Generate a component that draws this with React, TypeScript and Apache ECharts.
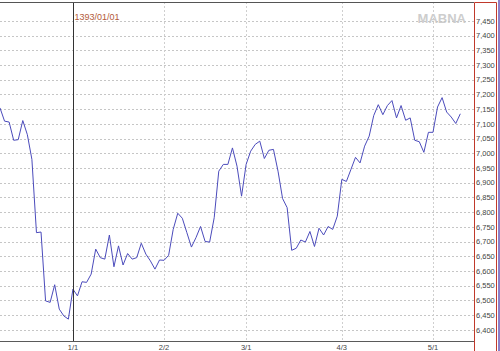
import React, { useEffect, useRef } from "react";
import * as echarts from "echarts";

// ---- data ----
const indexValues = [
  7155, 7110, 7107, 7045, 7047, 7112, 7064, 6980, 6731, 6733,
  6499, 6494, 6554, 6471, 6448, 6437, 6539, 6516, 6564, 6562,
  6590, 6675, 6646, 6641, 6723, 6615, 6686, 6621, 6660, 6641,
  6646, 6695, 6658, 6635, 6607, 6638, 6637, 6654, 6742, 6797,
  6780, 6731, 6682, 6714, 6752, 6701, 6699, 6782, 6940, 6963,
  6963, 7019, 6957, 6855, 6963, 7008, 7031, 7042, 6983, 7011,
  7014, 6940, 6847, 6816, 6671, 6678, 6706, 6699, 6735, 6684,
  6746, 6723, 6752, 6742, 6787, 6912, 6905, 6946, 6987, 6968,
  7025, 7059, 7129, 7166, 7132, 7163, 7180, 7121, 7163, 7113,
  7121, 7045, 7040, 7004, 7072, 7072, 7158, 7190, 7141, 7124,
  7102, 7135,
];
const xTickLabels = ["1/1", "2/2", "3/1", "4/3", "5/1"];
const xTickIndex = [16, 36, 54, 75, 95];
const yTicks = [
  6400, 6450, 6500, 6550, 6600, 6650, 6700, 6750, 6800, 6850, 6900,
  6950, 7000, 7050, 7100, 7150, 7200, 7250, 7300, 7350, 7400, 7450,
];
const eventIndex = 16;
const eventLabel = "1393/01/01";
const watermark = "MABNA";
const Y_MIN = 6362.7;
const Y_MAX = 7515;
const CATEGORY_COUNT = 105;

const FONT = '"Liberation Sans", Arial, sans-serif';
const fmt = (v: number) =>
  Math.round(v).toString().replace(/\B(?=(\d{3})+(?!\d))/g, ",");

export default function App() {
  const ref = useRef<HTMLDivElement>(null);

  useEffect(() => {
    if (!ref.current) return;
    const chart = echarts.init(ref.current, undefined, { renderer: "svg" });
    const categories = Array.from({ length: CATEGORY_COUNT }, (_, i) => String(i));
    const tickSet = new Set(xTickIndex);
    const lastValue = indexValues[indexValues.length - 1];

    chart.setOption({
      animation: false,
      backgroundColor: "#ffffff",
      grid: { left: 0, right: 26, top: 2, bottom: 9, containLabel: false },
      xAxis: {
        type: "category",
        data: categories,
        boundaryGap: false,
        axisLine: { show: true, lineStyle: { color: "#5a5a5a", width: 1 } },
        axisTick: { show: false },
        axisLabel: {
          interval: (i: number) => tickSet.has(i),
          formatter: (_v: string, i: number) => {
            const k = xTickIndex.indexOf(i);
            return k >= 0 ? xTickLabels[k] : "";
          },
          fontSize: 7.5,
          fontFamily: FONT,
          color: "#444",
          margin: 2,
        },
        splitLine: {
          show: true,
          interval: (i: number) => tickSet.has(i),
          lineStyle: { color: "#cfcfcf", type: [2, 2], width: 1 },
        },
      },
      yAxis: {
        type: "value",
        position: "right",
        min: Y_MIN,
        max: Y_MAX,
        axisLine: { show: false },
        axisTick: { show: false, customValues: yTicks },
        axisLabel: {
          customValues: yTicks,
          formatter: (v: number) => fmt(v),
          fontSize: 7.5,
          fontFamily: FONT,
          color: "#444",
          margin: 2,
        },
        splitLine: {
          show: true,
          lineStyle: { color: "#c6c6c6", type: [2, 2], width: 1 },
        },
      },
      series: [
        {
          type: "line",
          data: indexValues,
          symbol: "none",
          lineStyle: { color: "#4b4bbb", width: 1 },
          markLine: {
            silent: true,
            symbol: "none",
            animation: false,
            data: [
              {
                xAxis: eventIndex,
                lineStyle: { color: "#333", type: "solid", width: 1 },
                label: { show: false },
              },
              {
                yAxis: lastValue,
                lineStyle: { opacity: 0, width: 0 },
                label: {
                  show: true,
                  position: "end",
                  distance: 1,
                  formatter: () => fmt(lastValue),
                  backgroundColor: "#1f33d6",
                  color: "#ffffff",
                  fontSize: 7.5,
                  fontFamily: FONT,
                  padding: [1, 2, 0, 2],
                },
              },
            ],
          },
          markPoint: {
            silent: true,
            symbol: "circle",
            symbolSize: 1,
            itemStyle: { color: "rgba(0,0,0,0)" },
            data: [{ coord: [eventIndex, Y_MAX], value: eventLabel }],
            label: {
              show: true,
              position: "right",
              distance: 1,
              offset: [0, 15],
              formatter: eventLabel,
              color: "#b35a3a",
              fontSize: 9,
              fontFamily: FONT,
            },
          },
        },
      ],
      graphic: [
        {
          type: "line",
          shape: { x1: 0, y1: 2.5, x2: 474, y2: 2.5 },
          style: { stroke: "#555", lineWidth: 1 },
          z: 100,
        },
        {
          type: "rect",
          shape: { x: 474.5, y: 2.5, width: 22, height: 349 },
          style: { fill: "none", stroke: "#c0392b", lineWidth: 1 },
          z: 100,
        },
        {
          type: "rect",
          shape: { x: 498, y: 0, width: 2, height: 351 },
          style: { fill: "#8b80c9" },
          z: 100,
        },
        {
          type: "text",
          x: 466,
          y: 18,
          style: {
            text: watermark,
            align: "right",
            verticalAlign: "middle",
            fill: "#cdcdcd",
            fontSize: 13,
            fontWeight: "bold",
            fontFamily: FONT,
          },
          z: 0,
        },
      ],
    });
    return () => chart.dispose();
  }, []);

  return (
    <div
      ref={ref}
      style={{ position: "fixed", left: 0, top: 0, width: 500, height: 351 }}
    />
  );
}
